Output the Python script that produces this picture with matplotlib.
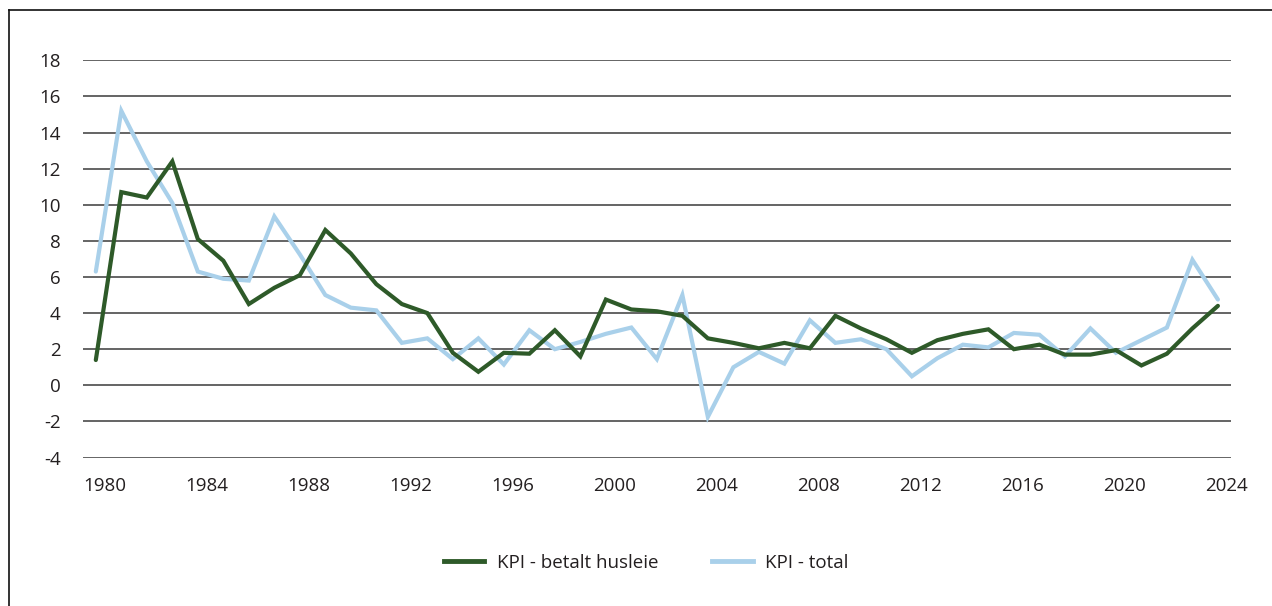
import matplotlib
matplotlib.use("Agg")
import matplotlib.pyplot as plt
import matplotlib.transforms as mtransforms
from matplotlib.lines import Line2D

years = list(range(1980, 2025))

# KPI - betalt husleie (annual change, %)
husleie = [1.4, 10.7, 10.4, 12.4, 8.1, 6.9, 4.5, 5.4, 6.1, 8.6, 7.3, 5.6,
           4.5, 4.0, 1.8, 0.75, 1.8, 1.75, 3.05, 1.6, 4.75, 4.2, 4.1, 3.85,
           2.6, 2.35, 2.05, 2.35, 2.05, 3.85, 3.15, 2.55, 1.8, 2.5, 2.85, 3.1,
           2.0, 2.25, 1.7, 1.7, 1.95, 1.1, 1.75, 3.15, 4.4]

# KPI - total (annual change, %)
total = [6.3, 15.2, 12.4, 10.1, 6.3, 5.9, 5.8, 9.35, 7.25, 5.0, 4.3, 4.15,
         2.35, 2.6, 1.45, 2.6, 1.15, 3.05, 2.0, 2.4, 2.85, 3.2, 1.45, 5.0,
         -1.75, 1.0, 1.85, 1.2, 3.6, 2.35, 2.55, 2.0, 0.5, 1.5, 2.25, 2.1,
         2.9, 2.8, 1.6, 3.15, 1.8, 2.5, 3.2, 6.95, 4.75]

series_labels = ["KPI - betalt husleie", "KPI - total"]
y_ticks = list(range(-4, 20, 2))
x_ticks = list(range(1980, 2025, 4))

green = "#2e5a29"
blue = "#a9d0ea"
grid_col = "#3a3a3a"
text_col = "#231f20"

plt.rcParams['font.family'] = ['Open Sans', 'DejaVu Sans']

fig = plt.figure(figsize=(12.72, 6.06), dpi=100)
ax = fig.add_axes([0.0653, 0.245, 0.9022, 0.6555])

for y in y_ticks:
    ax.axhline(y, color=grid_col, lw=1.1, zorder=1)

ax.plot(years, husleie, color=green, lw=3.0, solid_capstyle='round',
        solid_joinstyle='miter', zorder=3)
ax.plot(years, total, color=blue, lw=3.0, solid_capstyle='round',
        solid_joinstyle='miter', zorder=2)

ax.set_xlim(1979.5, 2024.5)
ax.set_ylim(-4, 18)
ax.set_yticks(y_ticks)
ax.set_yticklabels([str(v) for v in y_ticks])
ax.set_xticks(x_ticks)
ax.set_xticklabels([str(v) for v in x_ticks])
ax.tick_params(axis='both', length=0, labelsize=13.5, colors=text_col)
ax.tick_params(axis='y', pad=16)
ax.tick_params(axis='x', pad=14)
for s in ax.spines.values():
    s.set_visible(False)

# x labels sit slightly right of their year in the reference
off = mtransforms.ScaledTranslation(9 / 100, 0, fig.dpi_scale_trans)
for lab in ax.get_xticklabels():
    lab.set_transform(lab.get_transform() + off)

handles = [Line2D([], [], color=green, lw=3.5),
           Line2D([], [], color=blue, lw=3.5)]
fig.legend(handles, series_labels, loc='center', ncol=2,
           bbox_to_anchor=(0.508, 1 - 563 / 606), frameon=False,
           fontsize=13.5, handlelength=2.15, handletextpad=0.65,
           columnspacing=2.9, labelcolor=text_col)

# outer frame: left and top edges only
fig.add_artist(Line2D([9 / 1272, 9 / 1272], [0, 1 - 10 / 606],
                      transform=fig.transFigure, color="#111111", lw=1.2))
fig.add_artist(Line2D([9 / 1272, 1], [1 - 10 / 606, 1 - 10 / 606],
                      transform=fig.transFigure, color="#111111", lw=1.2))

fig.savefig("out.png", dpi=100, facecolor="white")
